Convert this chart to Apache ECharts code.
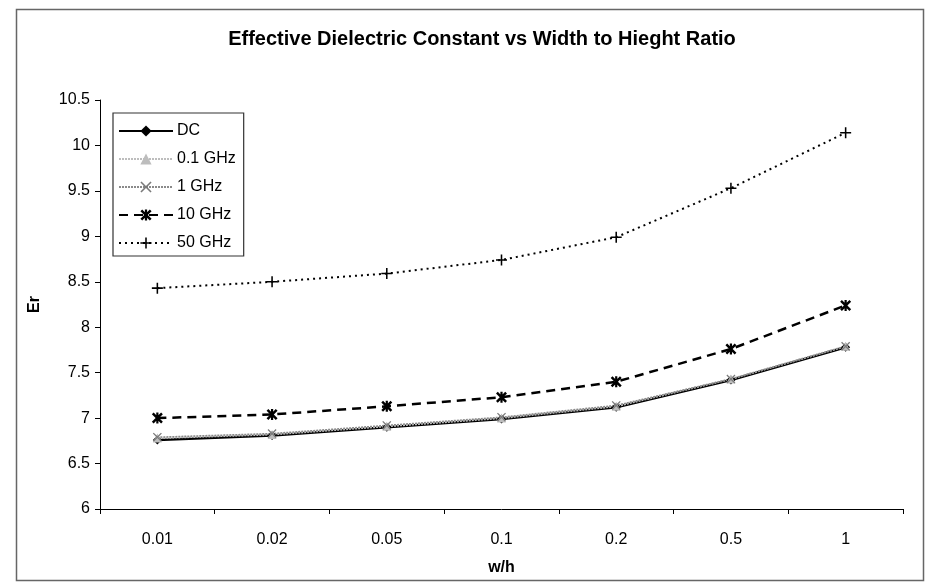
<!DOCTYPE html>
<html>
<head>
<meta charset="utf-8">
<script src="https://cdn.jsdelivr.net/npm/echarts@6/dist/echarts.min.js"></script>
<style>html,body{margin:0;padding:0;background:#fff}#c{width:928px;height:586px}</style>
</head>
<body>
<div id="c"></div>
<script>
const categories = ['0.01', '0.02', '0.05', '0.1', '0.2', '0.5', '1'];
const dc      = [6.76, 6.81, 6.90, 6.99, 7.12, 7.42, 7.78];
const ghz0_1  = [6.78, 6.82, 6.91, 7.00, 7.13, 7.43, 7.79];
const ghz1    = [6.79, 6.83, 6.92, 7.01, 7.14, 7.43, 7.79];
const ghz10   = [7.00, 7.04, 7.13, 7.23, 7.40, 7.76, 8.24];
const ghz50   = [8.43, 8.50, 8.59, 8.74, 8.99, 9.53, 10.14];
const seriesNames = ['DC', '0.1 GHz', '1 GHz', '10 GHz', '50 GHz'];
const yMin = 6, yMax = 10.5, yStep = 0.5;

const FONT = 'Liberation Sans, Arial, sans-serif';
const X_SYM = 'path://M0,1 L1,0 L5,4 L9,0 L10,1 L6,5 L10,9 L9,10 L5,6 L1,10 L0,9 L4,5 Z';
const PLUS_SYM = 'path://M4.3,0 L5.7,0 L5.7,4.3 L10,4.3 L10,5.7 L5.7,5.7 L5.7,10 L4.3,10 L4.3,5.7 L0,5.7 L0,4.3 L4.3,4.3 Z';
const STAR_SYM = 'path://M0,1.6 L1.6,0 L5,3.4 L8.4,0 L10,1.6 L6.6,5 L10,8.4 L8.4,10 L5,6.6 L1.6,10 L0,8.4 L3.4,5 Z M4,0 L6,0 L6,10 L4,10 Z';

const chart = echarts.init(document.getElementById('c'), null, {renderer: 'canvas'});
chart.setOption({
  backgroundColor: '#fff',
  animation: false,
  textStyle: {fontFamily: FONT},
  title: {
    text: 'Effective Dielectric Constant vs Width to Hieght Ratio',
    left: 477, top: 24, textAlign: 'center',
    textStyle: {fontFamily: FONT, fontSize: 20, fontWeight: 'bold', color: '#000'}
  },
  graphic: [{
    type: 'rect', left: 14, top: 7, silent: true,
    shape: {width: 907, height: 571},
    style: {fill: 'none', stroke: '#666', lineWidth: 1.5}
  }],
  legend: {
    orient: 'vertical', left: 113, top: 113,
    backgroundColor: '#fff', borderColor: '#333', borderWidth: 1.2,
    padding: [10, 8, 5, 5], itemGap: 12, itemWidth: 54, itemHeight: 14,
    data: seriesNames,
    textStyle: {fontFamily: FONT, fontSize: 16, color: '#000', padding: [0, 0, 0, -1]}
  },
  grid: {left: 100, top: 100, right: 25, bottom: 77},
  xAxis: {
    type: 'category', data: categories, boundaryGap: true,
    name: 'w/h', nameLocation: 'middle', nameGap: 51,
    nameTextStyle: {fontFamily: FONT, fontSize: 16, fontWeight: 'bold', color: '#000'},
    axisLine: {lineStyle: {color: '#000', width: 1}},
    axisTick: {show: true, length: 5, lineStyle: {color: '#000'}},
    axisLabel: {fontFamily: FONT, fontSize: 16, color: '#000', margin: 23},
    splitLine: {show: false}
  },
  yAxis: {
    type: 'value', min: yMin, max: yMax, interval: yStep,
    name: 'Er', nameLocation: 'middle', nameGap: 57, nameRotate: 90,
    nameTextStyle: {fontFamily: FONT, fontSize: 16, fontWeight: 'bold', color: '#000'},
    axisLine: {show: true, lineStyle: {color: '#000', width: 1}},
    axisTick: {show: true, length: 5, lineStyle: {color: '#000'}},
    axisLabel: {fontFamily: FONT, fontSize: 16, color: '#000', margin: 10},
    splitLine: {show: false}
  },
  series: [
    {name: seriesNames[0], type: 'line', data: dc, symbol: 'diamond', symbolSize: 9,
     lineStyle: {color: '#000', width: 2.5}, itemStyle: {color: '#000'}},
    {name: seriesNames[1], type: 'line', data: ghz0_1, symbol: 'triangle', symbolSize: 9,
     lineStyle: {color: '#bdbdbd', width: 2, type: [2, 1]}, itemStyle: {color: '#bdbdbd'}},
    {name: seriesNames[2], type: 'line', data: ghz1, symbol: X_SYM, symbolSize: 9,
     lineStyle: {color: '#8a8a8a', width: 1.5, type: [2, 1]}, itemStyle: {color: '#7a7a7a'}},
    {name: seriesNames[3], type: 'line', data: ghz10, symbol: STAR_SYM, symbolSize: 11,
     lineStyle: {color: '#000', width: 2.5, type: [9, 6]}, itemStyle: {color: '#000'}},
    {name: seriesNames[4], type: 'line', data: ghz50, symbol: PLUS_SYM, symbolSize: 11,
     lineStyle: {color: '#000', width: 2, type: [2, 4]}, itemStyle: {color: '#000'}}
  ]
});
</script>
</body>
</html>
